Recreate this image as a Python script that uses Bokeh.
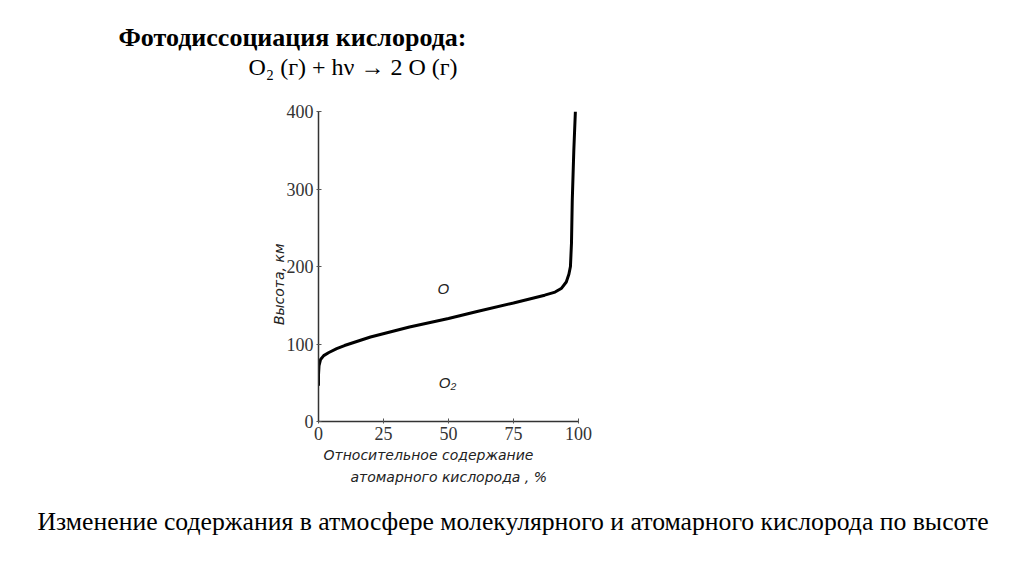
from bokeh.plotting import figure
from bokeh.models import Title, Range1d, FixedTicker
from bokeh.embed import file_html
from bokeh.resources import INLINE

# Relative content of atomic oxygen (%) vs altitude (km)
atomic_pct = [0.0, 0.0, 0.2, 0.8, 2.0, 4.0, 7.0, 10.0, 20.0, 35.0, 50.0, 61.0,
              75.0, 87.0, 91.0, 93.5, 95.3, 96.3, 96.9, 97.3, 97.6, 98.2, 98.8]
height_km = [46, 60, 72, 80, 85, 89, 94, 98, 109, 122, 133, 142,
             153, 163, 167, 172, 180, 190, 200, 230, 285, 350, 400]
x_ticks = [0, 25, 50, 75, 100]
y_ticks = [0, 100, 200, 300, 400]

title_1 = "Фотодиссоциация кислорода:"
title_2 = "O\u2082 (г) + hν \u2192 2 O (г)"
caption = "Изменение содержания в атмосфере молекулярного и атомарного кислорода по высоте"
y_label = "Высота, км"
x_label_1 = "Относительное содержание"
x_label_2 = "атомарного кислорода , %"
region_labels = ["O", "O\u2082"]
region_x = [48, 49.6]
region_y = [171, 50]

p = figure(width=1008, height=558, output_backend="svg", toolbar_location=None,
           x_range=Range1d(0, 100), y_range=Range1d(0, 400),
           min_border_left=318, min_border_right=430,
           min_border_top=111, min_border_bottom=137)
p.outline_line_color = None
p.xgrid.visible = False
p.ygrid.visible = False
p.background_fill_color = "white"
p.border_fill_color = "white"

for ax, ticks in ((p.xaxis, x_ticks), (p.yaxis, y_ticks)):
    ax.ticker = FixedTicker(ticks=ticks)
    ax.minor_tick_line_color = None
    ax.major_tick_in = 3
    ax.major_tick_out = 2
    ax.axis_line_width = 1.5
    ax.axis_line_color = "#333333"
    ax.major_tick_line_color = "#555555"
    ax.major_label_text_font = "Liberation Serif"
    ax.major_label_text_font_size = "18px"
    ax.major_label_text_color = "#333333"
    ax.major_label_standoff = 3

# trailing no-break spaces move the rotated label a little lower along the axis
p.yaxis.axis_label = y_label + "\u00a0" * 8
p.yaxis.axis_label_text_font = "DejaVu Sans"
p.yaxis.axis_label_text_font_style = "italic"
p.yaxis.axis_label_text_font_size = "14px"
p.yaxis.axis_label_text_color = "#222222"
p.yaxis.axis_label_standoff = -3

p.line(atomic_pct, height_km, line_width=3, line_color="black")

p.text(x=region_x, y=region_y, text=region_labels, text_font_size="15px",
       text_font_style="italic", text_align="center", text_baseline="middle",
       text_color="#222222")

def title(text, place, offset, size, standoff, style="normal", font="Liberation Serif", color="black"):
    p.add_layout(Title(text=text, align="left", offset=offset, text_font=font,
                       text_font_size=size, text_font_style=style, standoff=standoff,
                       text_line_height=1.2, text_color=color), place)

# above: first added is closest to the frame; a blank second line lifts the formula
title(title_2 + "\n\u00a0", "above", -70, "24px", 0)
title(title_1, "above", -200, "26px", 1, style="bold")
# below: first added is closest to the frame
title(x_label_1, "below", 5, "14px", 4, style="italic", font="DejaVu Sans", color="#222222")
title(x_label_2, "below", 32, "14px", 5, style="italic", font="DejaVu Sans", color="#222222")
title(caption, "below", -281, "25.7px", 34)

open("out.html", "w").write(file_html(p, INLINE))
